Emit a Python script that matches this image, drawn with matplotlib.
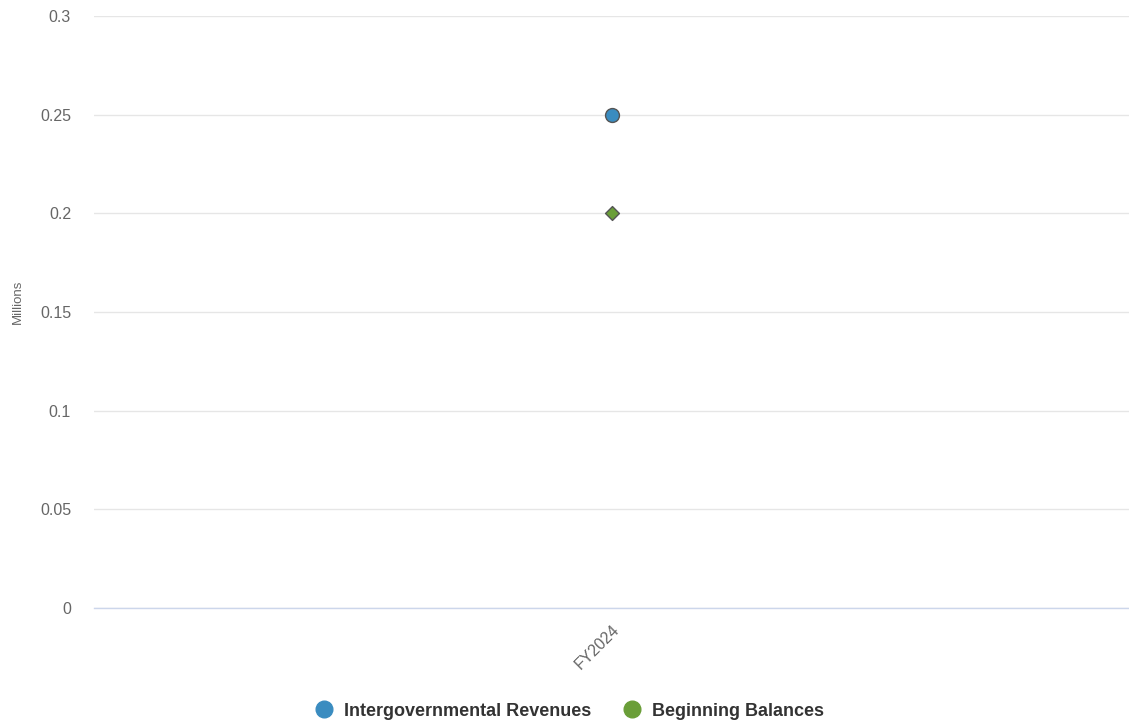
import matplotlib
matplotlib.use("Agg")
import matplotlib.pyplot as plt
from matplotlib.lines import Line2D

categories = ["FY2024"]
intergov = [0.25]
beginning = [0.2]
yticks = [0, 0.05, 0.1, 0.15, 0.2, 0.25, 0.3]
ytick_labels = ["0", "0.05", "0.1", "0.15", "0.2", "0.25", "0.3"]

blue = "#3a8cc0"
green = "#6a9e38"

plt.rcParams["font.family"] = ["Liberation Sans", "DejaVu Sans"]

fig = plt.figure(figsize=(11.29, 7.28), dpi=100)
ax = fig.add_axes([94 / 1129, 1 - 608 / 728, 1 - 94 / 1129, (608 - 16) / 728])

x = range(len(categories))
ax.scatter(x, intergov, s=100, marker="o", color=blue, edgecolor="#555555", linewidth=1, zorder=3)
ax.scatter(x, beginning, s=50, marker="D", color=green, edgecolor="#555555", linewidth=1, zorder=3)

ax.set_xlim(-0.5, len(categories) - 0.5)
ax.set_ylim(0, 0.3)
ax.set_yticks(yticks)
ax.set_yticklabels(ytick_labels)
ax.set_xticks(list(x))
ax.set_xticklabels(categories, rotation=45, ha="right", va="top", rotation_mode="anchor", fontsize=11)

ax.grid(axis="y", color="#e6e6e6", linewidth=1)
ax.set_axisbelow(True)
for s in ["top", "right", "left"]:
    ax.spines[s].set_visible(False)
ax.spines["bottom"].set_color("#ccd6eb")
ax.spines["bottom"].set_linewidth(1)
ax.tick_params(axis="both", length=0, colors="#666666", labelsize=11.5)
ax.tick_params(axis="y", pad=16.5)
ax.tick_params(axis="x", pad=10)

fig.text(18 / 1129, 1 - 302 / 728, "Millions", rotation=90, ha="center", va="center",
         color="#666666", fontsize=9.5)

handles = [
    Line2D([], [], marker="o", linestyle="none", markersize=12, color=blue, label="Intergovernmental Revenues"),
    Line2D([], [], marker="o", linestyle="none", markersize=12, color=green, label="Beginning Balances"),
]
fig.legend(handles=handles, loc="center", bbox_to_anchor=(0.5 + 5 / 1129, 1 - 711 / 728), ncol=2, frameon=False,
           prop={"weight": "bold", "size": 13}, labelcolor="#333333", handletextpad=0.6,
           columnspacing=1.8, handlelength=1.0)

fig.savefig("out.png", dpi=100)
